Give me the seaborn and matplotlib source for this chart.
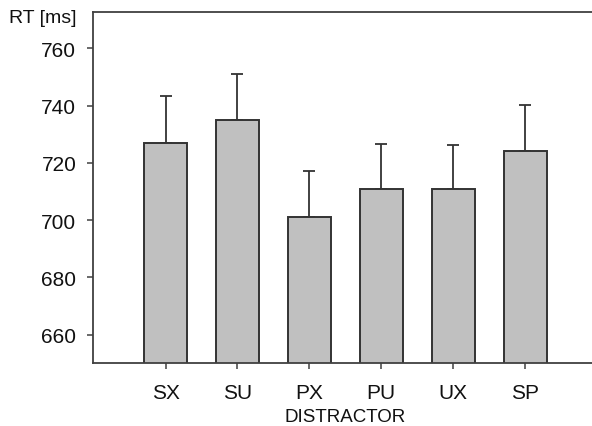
import matplotlib
matplotlib.use("Agg")
import matplotlib.pyplot as plt
import numpy as np
import pandas as pd
import seaborn as sns

# reaction time per distractor condition, with upper error bar ends
distractors = ["SX", "SU", "PX", "PU", "UX", "SP"]
rt_means = [727, 735, 701, 711, 711, 724]
rt_upper = [743.5, 751, 717, 726.5, 726.3, 740.3]
y_ticks = [660, 680, 700, 720, 740, 760]

sns.set_style("white")
plt.rcParams["font.family"] = ["Liberation Sans", "DejaVu Sans"]

df = pd.DataFrame({"distractor": distractors, "rt": rt_means})
err_up = np.array(rt_upper) - np.array(rt_means)

fig = plt.figure(figsize=(5.92, 4.27), dpi=100)
ax = fig.add_axes([0.157, 0.147, 0.843, 0.822])

sns.barplot(data=df, x="distractor", y="rt", color="#c0c0c0", width=0.6,
            edgecolor="#333333", linewidth=1.4, saturation=1, errorbar=None,
            ax=ax, zorder=2)
ax.errorbar(np.arange(len(distractors)), rt_means,
            yerr=[np.zeros(len(err_up)), err_up], fmt="none",
            ecolor="#333333", elinewidth=1.3, capsize=4.5, capthick=1.3,
            zorder=1)

ax.set_ylim(650, 772.6)
ax.set_xlim(-1.01, 5.93)
ax.set_yticks(y_ticks)
ax.set_xlabel("")
ax.set_ylabel("")

for side in ["left", "bottom", "top"]:
    ax.spines[side].set_color("#404040")
    ax.spines[side].set_linewidth(1.3)
ax.spines["right"].set_visible(False)

ax.tick_params(axis="both", direction="out", length=4, width=1.1,
               color="#404040", labelsize=15, labelcolor="#111111")
ax.tick_params(axis="y", pad=8, left=True)
ax.tick_params(axis="x", pad=10.5, bottom=True)

ax.text(2.5, -0.164, "DISTRACTOR", transform=ax.get_xaxis_transform(),
        ha="center", va="baseline", fontsize=13.5, color="#111111")
fig.text(0.0723, 0.9454, "RT [ms]", ha="center", va="baseline", fontsize=14,
         color="#111111")

fig.savefig("out.png", dpi=100)
